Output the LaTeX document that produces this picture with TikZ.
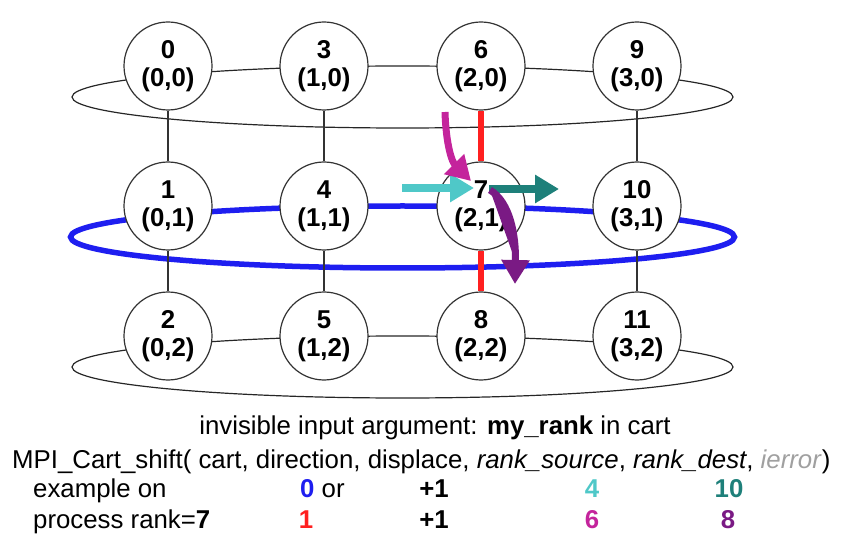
\documentclass[tikz,border=0pt]{standalone}
\usepackage{fontspec}
\setmainfont{Liberation Sans}
\usetikzlibrary{arrows.meta}
\definecolor{cyanarrow}{HTML}{4FC8C8}
\definecolor{tealarrow}{HTML}{1E807A}
\definecolor{magarrow}{HTML}{C4249C}
\definecolor{purparrow}{HTML}{7A1A84}
\definecolor{redline}{HTML}{FF2020}
\definecolor{blueline}{HTML}{1E1EF0}
\definecolor{ierrgray}{HTML}{A0A0A0}
\begin{document}
\begin{tikzpicture}[x=1pt,y=-1pt,
  proc/.style={circle, draw=black!80, line width=1.2pt, fill=white, minimum size=88pt, inner sep=0pt, align=center, font=\bfseries\fontsize{25.8}{28}\selectfont},
  ring/.style={draw=black!85, line width=1.2pt},
  bluering/.style={draw=blueline, line width=5.5pt},
  vline/.style={draw=black!80, line width=1.2pt},
  redv/.style={draw=redline, line width=6pt},
  fatarrow/.style={line width=8pt, -{Triangle[width=27pt,length=24pt]}},
  txt/.style={inner sep=0pt, font=\fontsize{25.8}{28}\selectfont}
]
\useasboundingbox (0,0) rectangle (843,553);
% rings
\draw[ring] (402.5,97) ellipse [x radius=330.5pt, y radius=31pt];
\draw[ring] (402.5,367) ellipse [x radius=330.5pt, y radius=31pt];
\draw[bluering] (402.5,237) ellipse [x radius=332pt, y radius=31pt];
% processes
\node[proc] (n0) at (168,66) {0\\(0,0)};
\node[proc] (n1) at (168,206) {1\\(0,1)};
\node[proc] (n2) at (168,336) {2\\(0,2)};
\node[proc] (n3) at (324,66) {3\\(1,0)};
\node[proc] (n4) at (324,206) {4\\(1,1)};
\node[proc] (n5) at (324,336) {5\\(1,2)};
\node[proc] (n6) at (481,66) {6\\(2,0)};
\node[proc] (n7) at (481,206) {7\\(2,1)};
\node[proc] (n8) at (481,336) {8\\(2,2)};
\node[proc] (n9) at (637,66) {9\\(3,0)};
\node[proc] (n10) at (637,206) {10\\(3,1)};
\node[proc] (n11) at (637,336) {11\\(3,2)};
% vertical links
\draw[vline] (n0) -- (n1); \draw[vline] (n1) -- (n2);
\draw[vline] (n3) -- (n4); \draw[vline] (n4) -- (n5);
\draw[vline] (n9) -- (n10); \draw[vline] (n10) -- (n11);
\draw[redv] (n6) -- (n7); \draw[redv] (n7) -- (n8);
% arrows
\coordinate (cs) at (402,188); \coordinate (ce) at (474,188);
\coordinate (ts) at (489,189); \coordinate (te) at (559,189);
\coordinate (ms) at (445,112); \coordinate (me) at (471,181);
\coordinate (ps) at (490,190); \coordinate (pe) at (515,284);
\draw[fatarrow, draw=cyanarrow, fill=cyanarrow] (cs) -- (ce);
\draw[fatarrow, draw=tealarrow, fill=tealarrow] (ts) -- (te);
\draw[fatarrow, line width=7pt, draw=magarrow, fill=magarrow] (ms) .. controls (446,145) and (452,162) .. (me);
\draw[fatarrow, line width=7pt, draw=purparrow, fill=purparrow] (ps) .. controls (510,202) and (516,235) .. (pe);
% text
\node[txt, anchor=base] (l1) at (435,434) {invisible input argument: \textbf{my\_rank} in cart};
\node[txt, anchor=base west] (l2) at (12,468) {MPI\_Cart\_shift( cart, direction, displace, \textit{rank\_source}, \textit{rank\_dest}, {\color{ierrgray}\textit{ierror}})};
\node[txt, anchor=base west] (l3) at (33,497) {example on};
\node[txt, anchor=base west] (l4) at (33,528) {process rank=\textbf{7}};
\node[txt, anchor=base west] (d1) at (300,497) {\textbf{\color{blueline}0} or};
\node[txt, anchor=base] (p1) at (434,497) {\textbf{+1}};
\node[txt, anchor=base] (s1) at (592,497) {\textbf{\color{cyanarrow}4}};
\node[txt, anchor=base] (t1) at (729,497) {\textbf{\color{tealarrow}10}};
\node[txt, anchor=base] (d2) at (306,528) {\textbf{\color{redline}1}};
\node[txt, anchor=base] (p2) at (434,528) {\textbf{+1}};
\node[txt, anchor=base] (s2) at (592,528) {\textbf{\color{magarrow}6}};
\node[txt, anchor=base] (t2) at (728,528) {\textbf{\color{purparrow}8}};
\end{tikzpicture}
\end{document}
